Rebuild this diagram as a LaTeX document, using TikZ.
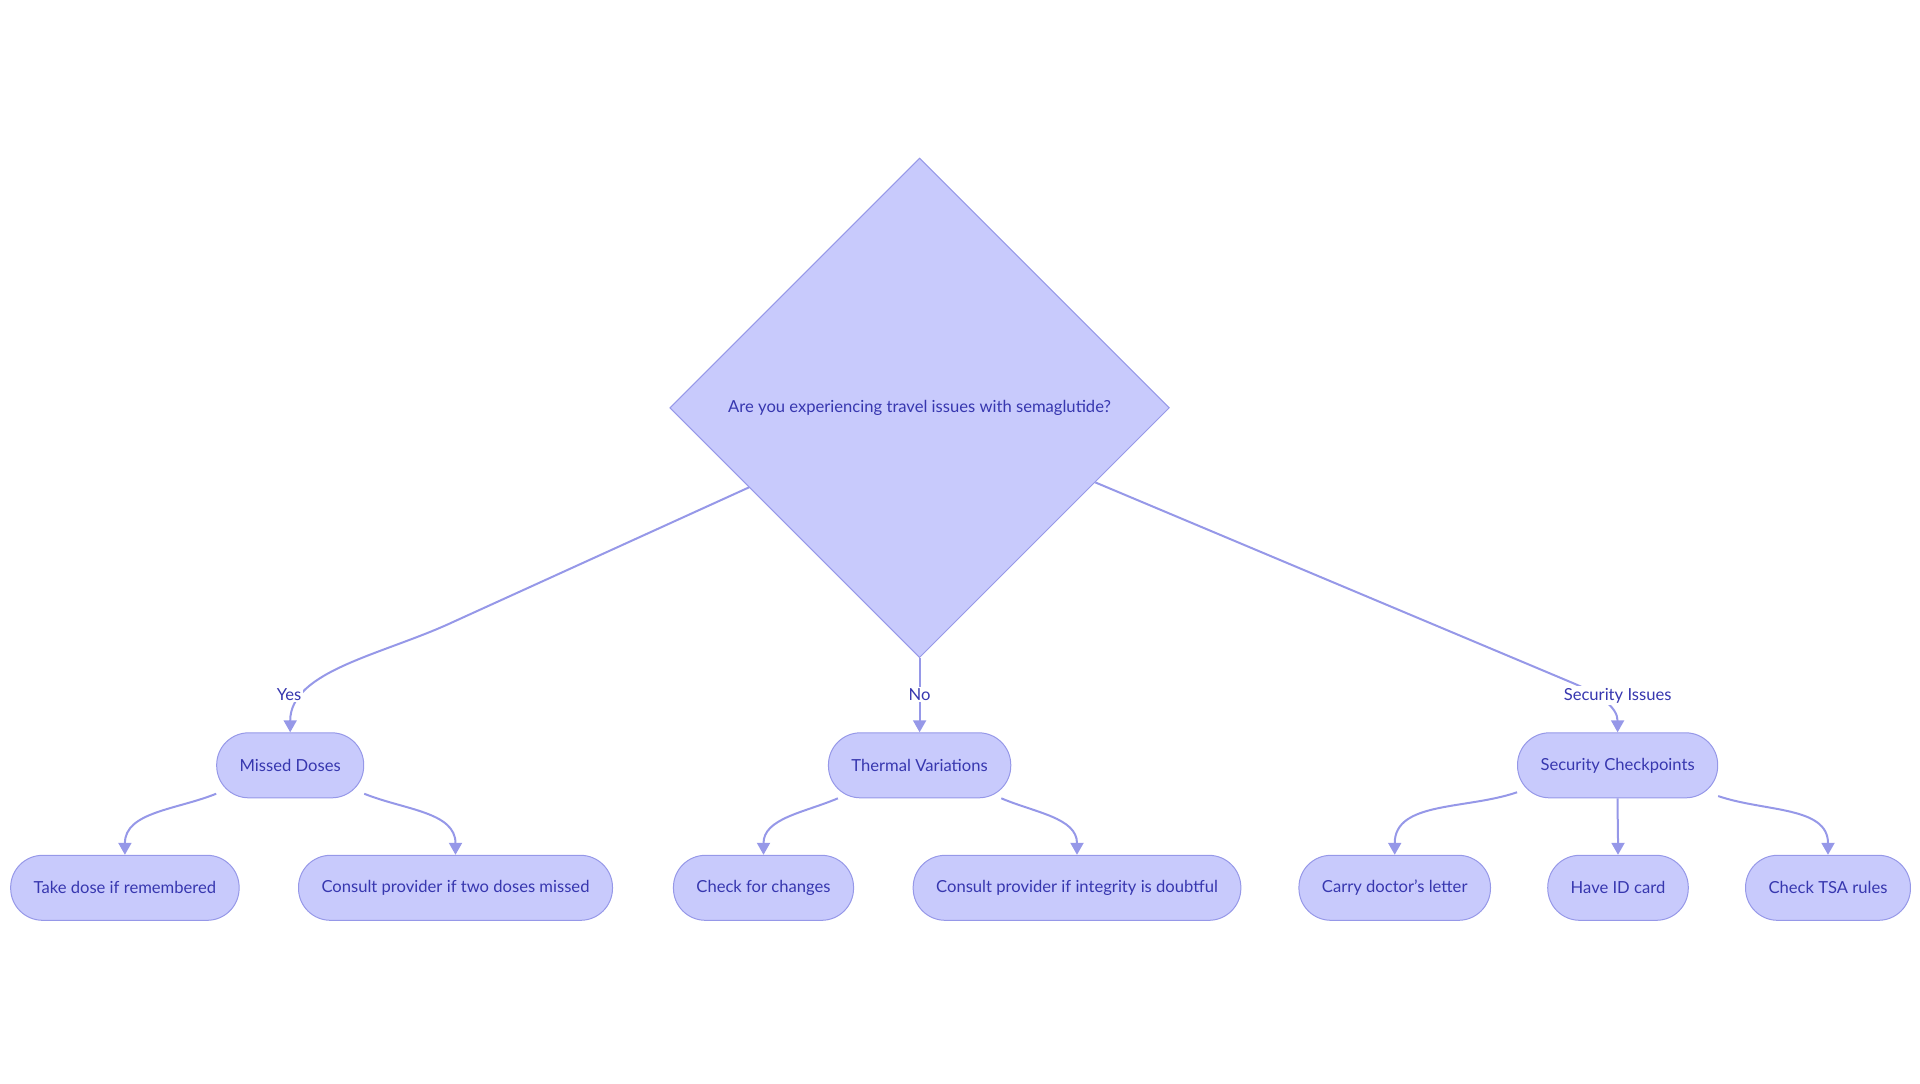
\documentclass[tikz,border=0pt]{standalone}
\usepackage{fontspec}
\setmainfont{Lato}
\usetikzlibrary{shapes.geometric,arrows.meta}
\definecolor{boxfill}{RGB}{200,202,252}
\definecolor{boxline}{RGB}{150,152,232}
\definecolor{boxtext}{RGB}{55,55,175}
\definecolor{linkline}{RGB}{150,152,232}

\begin{document}
\begin{tikzpicture}[x=0.5pt,y=0.5pt,
  every node/.style={font=\fontsize{8.3}{10}\selectfont, text=boxtext},
  pill/.style={draw=boxline, fill=boxfill, line width=0.5pt, rounded corners=16pt, minimum height=32.5pt, inner xsep=11.5pt},
  question/.style={diamond, draw=boxline, fill=boxfill, line width=0.5pt, minimum width=249.8pt, minimum height=249.8pt, inner sep=0pt},
  link/.style={draw=linkline, line width=1pt, -{Triangle[length=6pt,width=6.5pt]}},
  linklabel/.style={fill=white, inner sep=0.8pt}]
\useasboundingbox (0,0) rectangle (1920,-1083);
\node[question] (q) at (919.6,-407.8) {Are you experiencing travel issues with semaglutide?};
\node[pill] (md) at (290.2,-765.3) {Missed Doses};
\node[pill] (tv) at (919.6,-765.3) {Thermal Variations};
\node[pill] (sc) at (1617.6,-765.3) {Security Checkpoints};
\node[pill] (td) at (124.9,-887.8) {Take dose if remembered};
\node[pill] (cd) at (455.5,-887.8) {Consult provider if two doses missed};
\node[pill] (cc) at (763.5,-887.8) {Check for changes};
\node[pill] (ci) at (1077,-887.8) {Consult provider if integrity is doubtful};
\node[pill] (dl) at (1394.7,-887.8) {Carry doctor's letter};
\node[pill] (id) at (1618,-887.8) {Have ID card};
\node[pill] (tsa) at (1828,-887.8) {Check TSA rules};
\coordinate (yesbend) at (453,-622);
\coordinate (secbend) at (1573.5,-683.3);
\draw[link] (q.205) -- (yesbend) to[out=205,in=90,in looseness=0.8] (md.north);
\draw[link] (q.south) -- (tv.north);
\draw[link] (q.-23) -- (secbend) to[out=-23,in=90] (sc.north);
\foreach \a/\b/\s/\o in {md/td/201/202,md/cd/-21/-22,tv/cc/202/203,tv/ci/-22/-23,sc/dl/195/199,sc/id/-90/-90,sc/tsa/-17/-19}
  \draw[link] (\a.\s) to[out=\o,in=90] (\b.north);
\node[linklabel] (yes) at (289,-694.3) {Yes};
\node[linklabel] (no) at (919.6,-694.3) {No};
\node[linklabel] (secissues) at (1617.6,-695.5) {Security Issues};
\end{tikzpicture}
\end{document}
